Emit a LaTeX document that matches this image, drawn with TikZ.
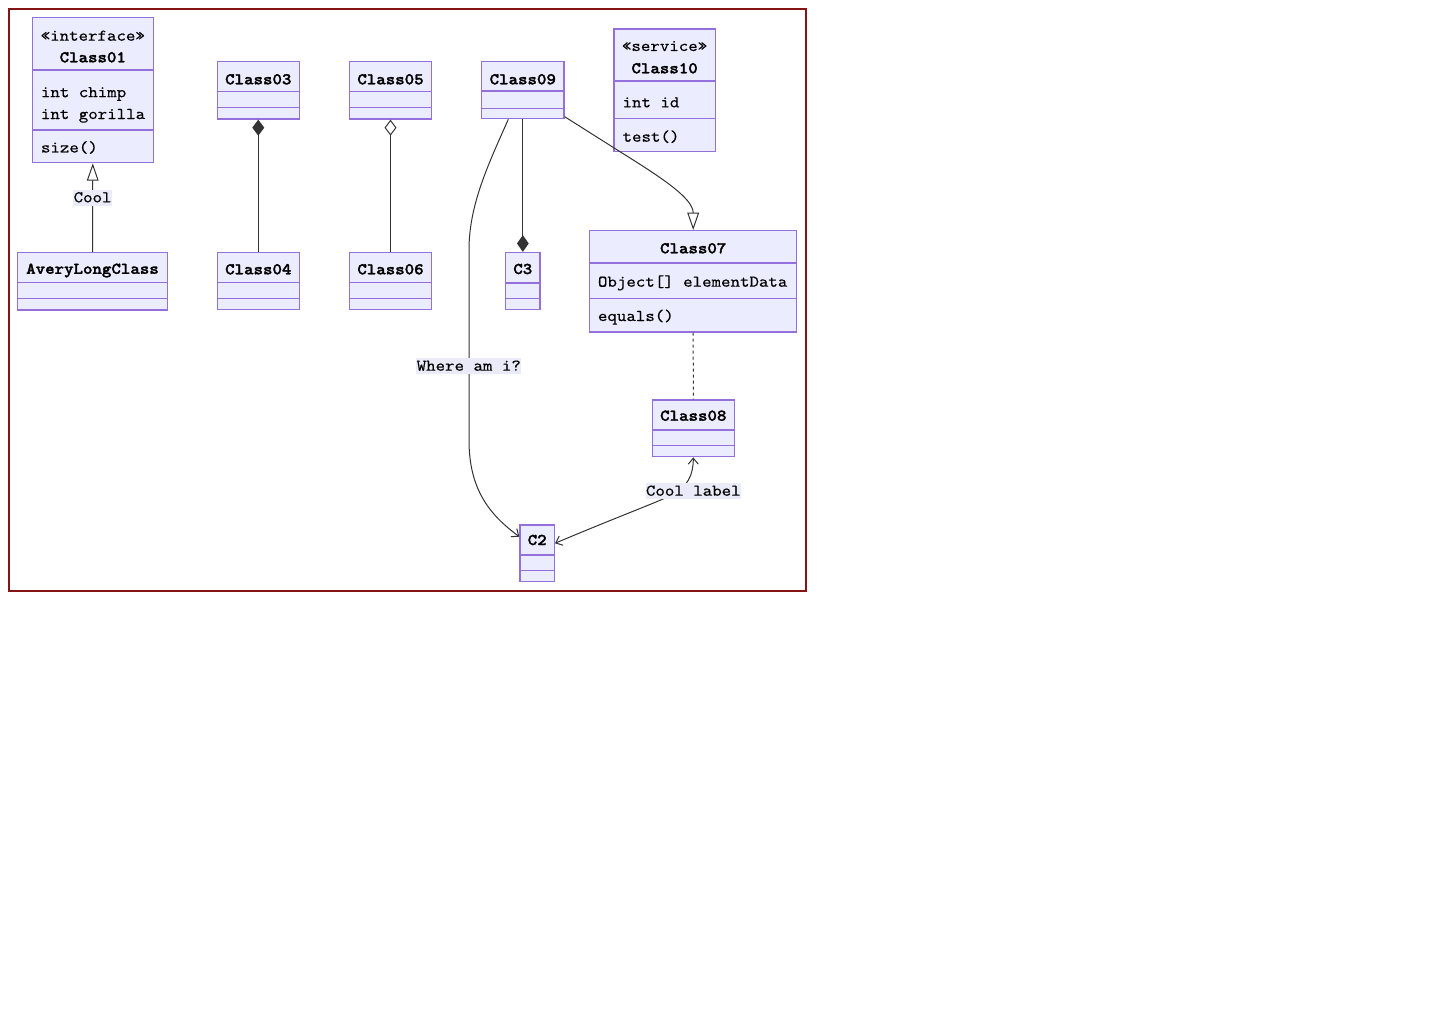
\documentclass[tikz,border=0pt]{standalone}
\usepackage{fontspec}
\newfontfamily\codefont{lmmono10-regular.otf}[FakeStretch=1.1, FakeBold=0.3,
  BoldFont=lmmonolt10-bold.otf, BoldFeatures={FakeStretch=1.1, FakeBold=1.7}]
\usetikzlibrary{arrows.meta,fit}

\definecolor{boxfill}{HTML}{ECECFF}
\definecolor{boxedge}{HTML}{9370DB}
\definecolor{wirecol}{HTML}{333333}
\definecolor{framered}{HTML}{861414}
\definecolor{labelbg}{HTML}{EAEAF8}

\tikzset{
  classbox/.style={draw=boxedge, fill=boxfill, line width=1pt, inner sep=0pt, fit={#1}},
  divider/.style={draw=boxedge, line width=1pt},
  mono/.style={font=\fontsize{12.3}{14}\selectfont\codefont, text=black, inner sep=0pt},
  cname/.style={mono, font=\fontsize{12.3}{14}\selectfont\codefont\bfseries, anchor=base},
  stereo/.style={mono, anchor=base},
  member/.style={mono, anchor=base west},
  wire/.style={draw=wirecol, line width=0.75pt},
  edgelabel/.style={mono, fill=labelbg, anchor=base, inner xsep=0.3pt, inner ysep=0pt,
                    text height=9.6pt, text depth=2.8pt},
  inherit/.style={-{Triangle[open, length=13pt, width=8.8pt, fill=white]}},
  composite/.style={{Diamond[length=12pt, width=9pt]}-},
  compositeend/.style={-{Diamond[length=12.5pt, width=8.8pt]}},
  aggregate/.style={{Diamond[open, length=12pt, width=9pt, fill=white]}-},
  barbend/.style={-{Straight Barb[length=4.5pt, width=7.5pt]}},
  barbboth/.style={{Straight Barb[length=4.5pt, width=7.5pt]}-{Straight Barb[length=4.5pt, width=7.5pt]}},
  dotted link/.style={dash pattern=on 2.25pt off 2.25pt}
}

\begin{document}
\begin{tikzpicture}[x=0.75pt, y=-0.75pt]
\useasboundingbox (0,0) rectangle (1440,1024);
\fill[white] (0,0) rectangle (1440,1024);

% outer frame
\draw[framered, line width=1.5pt] (9,9) rectangle (806,591);

% ---------- class boxes ----------
% Class01
\node[classbox={(32.3,17.3) (153.3,162.7)}] (c01) {};
\draw[divider] (c01.west |- 0,70) -- (c01.east |- 0,70);
\draw[divider] (c01.west |- 0,130) -- (c01.east |- 0,130);
\node[stereo] (c01st) at (92.8,40.7) {«interface»};
\node[cname] (c01nm) at (92.8,62.3) {Class01};
\node[member] (c01m1) at (40.7,97.2) {int chimp};
\node[member] (c01m2) at (40.7,119) {int gorilla};
\node[member] (c01op) at (40.7,152.5) {size()};

% AveryLongClass
\node[classbox={(17.7,252.7) (167.3,310)}] (alc) {};
\draw[divider] (alc.west |- 0,282.7) -- (alc.east |- 0,282.7);
\draw[divider] (alc.west |- 0,298.7) -- (alc.east |- 0,298.7);
\node[cname] (alcnm) at (92.5,273.8) {AveryLongClass};

% Class03 / Class04
\node[classbox={(217.3,61.7) (299.3,119)}] (c03) {};
\draw[divider] (c03.west |- 0,91.7) -- (c03.east |- 0,91.7);
\draw[divider] (c03.west |- 0,107.7) -- (c03.east |- 0,107.7);
\node[cname] (c03nm) at (258.3,84.3) {Class03};

\node[classbox={(217.3,252.5) (299.3,309.5)}] (c04) {};
\draw[divider] (c04.west |- 0,282.5) -- (c04.east |- 0,282.5);
\draw[divider] (c04.west |- 0,298.5) -- (c04.east |- 0,298.5);
\node[cname] (c04nm) at (258.3,274.3) {Class04};

% Class05 / Class06
\node[classbox={(349.3,61.7) (431.7,119)}] (c05) {};
\draw[divider] (c05.west |- 0,91.7) -- (c05.east |- 0,91.7);
\draw[divider] (c05.west |- 0,107.7) -- (c05.east |- 0,107.7);
\node[cname] (c05nm) at (390.5,84.3) {Class05};

\node[classbox={(349.3,252.5) (431.7,309.5)}] (c06) {};
\draw[divider] (c06.west |- 0,282.5) -- (c06.east |- 0,282.5);
\draw[divider] (c06.west |- 0,298.5) -- (c06.east |- 0,298.5);
\node[cname] (c06nm) at (390.5,274.3) {Class06};

% Class09
\node[classbox={(481.7,61.7) (564,118.7)}] (c09) {};
\draw[divider] (c09.west |- 0,91) -- (c09.east |- 0,91);
\draw[divider] (c09.west |- 0,108.3) -- (c09.east |- 0,108.3);
\node[cname] (c09nm) at (522.8,84.3) {Class09};

% Class10
\node[classbox={(614,29) (715.3,151.7)}] (c10) {};
\draw[divider] (c10.west |- 0,81) -- (c10.east |- 0,81);
\draw[divider] (c10.west |- 0,118.7) -- (c10.east |- 0,118.7);
\node[stereo] (c10st) at (664.6,51) {«service»};
\node[cname] (c10nm) at (664.6,73.3) {Class10};
\node[member] (c10m1) at (622.3,107.3) {int id};
\node[member] (c10op) at (622.3,141.7) {test()};

% C3
\node[classbox={(505.7,252.5) (540,309.5)}] (c3) {};
\draw[divider] (c3.west |- 0,283) -- (c3.east |- 0,283);
\draw[divider] (c3.west |- 0,298.7) -- (c3.east |- 0,298.7);
\node[cname] (c3nm) at (522.8,274) {C3};

% Class07
\node[classbox={(589.7,230.7) (796.7,332)}] (c07) {};
\draw[divider] (c07.west |- 0,263) -- (c07.east |- 0,263);
\draw[divider] (c07.west |- 0,298.7) -- (c07.east |- 0,298.7);
\node[cname] (c07nm) at (693.2,253.3) {Class07};
\node[member] (c07m1) at (597.7,286.7) {Object[] elementData};
\node[member] (c07op) at (597.7,321) {equals()};

% Class08
\node[classbox={(652.3,400) (734.3,456.7)}] (c08) {};
\draw[divider] (c08.west |- 0,430) -- (c08.east |- 0,430);
\draw[divider] (c08.west |- 0,445.7) -- (c08.east |- 0,445.7);
\node[cname] (c08nm) at (693.3,420.7) {Class08};

% C2
\node[classbox={(520,525) (554.3,581.7)}] (c2) {};
\draw[divider] (c2.west |- 0,555) -- (c2.east |- 0,555);
\draw[divider] (c2.west |- 0,570.7) -- (c2.east |- 0,570.7);
\node[cname] (c2nm) at (537.2,545) {C2};

% ---------- relations ----------
% AveryLongClass realises Class01
\draw[wire, inherit] (alc.north) -- (c01.south)
  node[edgelabel] (lcool) at (92.6,202.3) {Cool};

% Class03 composed of Class04
\draw[wire, composite] (c03.south) -- (c04.north);

% Class05 aggregates Class06
\draw[wire, aggregate] (c05.south) -- (c06.north);

% Class09 composition with C3
\draw[wire, compositeend] (c09.south -| c3.north) -- (c3.north);

% Class09 inherits Class07
\draw[wire, inherit] (c09.east |- 0,116.7) -- (620,151.7)
  .. controls (660,176.7) and (693.2,198) .. (c07.north);

% Class09 to C2
\draw[wire, barbend] (c09.south -| 508.3,0)
  .. controls (488,165) and (469,205) .. (469,250)
  -- (469,440)
  .. controls (469,490) and (490,515) .. (c2.west |- 0,536.7)
  node[edgelabel] (lwhere) at (468.8,370.7) {Where am i?};

% Class07 link to Class08
\draw[wire, dotted link] (c07.south) -- (c08.north);

% C2 and Class08 two-way
\draw[wire, barbboth] (c2.east |- 0,543.3)
  .. controls (610,520) and (650,505) .. (670,496)
  .. controls (688,487) and (693.3,475) .. (c08.south)
  node[edgelabel] (lcoollabel) at (693.3,495.7) {Cool label};

\end{tikzpicture}
\end{document}
